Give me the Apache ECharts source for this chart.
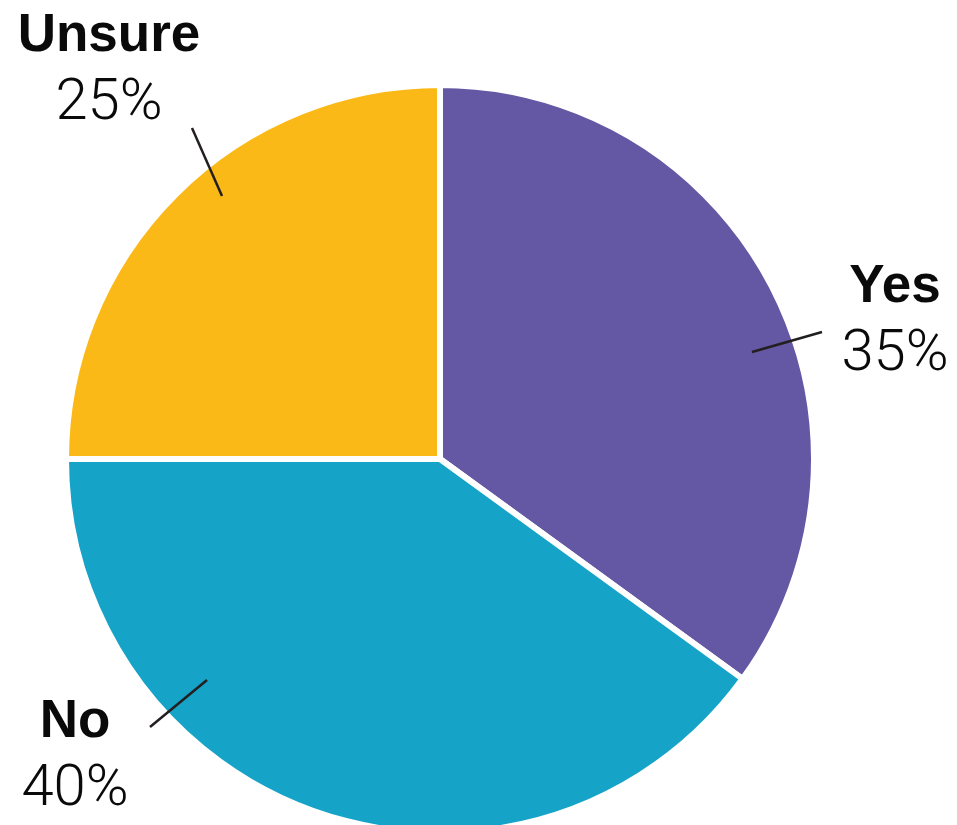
<!DOCTYPE html>
<html>
<head>
<meta charset="utf-8">
<script src="https://cdn.jsdelivr.net/npm/echarts@6/dist/echarts.min.js"></script>
<style>
  html, body { margin: 0; padding: 0; background: #fff; }
  #chart { width: 957px; height: 825px; }
</style>
</head>
<body>
<div id="chart"></div>
<script>
// Survey answers, share of respondents (%)
const answers = ['Yes', 'No', 'Unsure'];
const shares = [35, 40, 25];
const sliceColors = ['#6457A3', '#15A3C7', '#FBB917'];

// Where each answer's label sits and how its leader line runs
const labelSpots = [
  { x: 895, y: 321, line: [[752, 352], [822, 332]] },
  { x: 75,  y: 756, line: [[207, 680], [150, 727]] },
  { x: 109, y: 70,  line: [[222, 196], [192, 128]] }
];

const pieCenter = [440, 459];
const pieRadius = [0, 374];

const slices = answers.map((name, i) => ({
  name: name,
  value: shares[i],
  itemStyle: { color: sliceColors[i] }
}));

const chart = echarts.init(document.getElementById('chart'), null, { renderer: 'canvas' });

chart.setOption({
  backgroundColor: '#ffffff',
  animation: false,
  series: [
    {
      // coloured wedges
      type: 'pie',
      z: 2,
      center: pieCenter,
      radius: pieRadius,
      startAngle: 90,
      clockwise: true,
      data: slices,
      itemStyle: { borderColor: '#ffffff', borderWidth: 6 },
      label: { show: false },
      labelLine: { show: false }
    },
    {
      // labels and leader lines, laid over the wedges
      type: 'pie',
      z: 5,
      silent: true,
      center: pieCenter,
      radius: pieRadius,
      startAngle: 90,
      clockwise: true,
      avoidLabelOverlap: false,
      data: slices.map((s) => ({ name: s.name, value: s.value })),
      itemStyle: { color: 'rgba(0,0,0,0)', borderWidth: 0 },
      label: {
        show: true,
        position: 'outside',
        formatter: (p) => '{n|' + p.name + '}\n{p|' + p.value + '%}',
        rich: {
          n: {
            fontFamily: 'Liberation Sans, Arial, sans-serif',
            fontWeight: 'bold',
            fontSize: 53,
            lineHeight: 68,
            color: '#0a0a0a',
            align: 'center'
          },
          p: {
            fontFamily: 'Roboto, sans-serif',
            fontWeight: 300,
            fontSize: 58,
            lineHeight: 68,
            color: '#0a0a0a',
            align: 'center'
          }
        }
      },
      labelLine: {
        show: true,
        lineStyle: { color: '#231f20', width: 2.5 }
      },
      labelLayout: (params) => {
        const s = labelSpots[params.dataIndex];
        return {
          x: s.x,
          y: s.y,
          align: 'center',
          verticalAlign: 'middle',
          labelLinePoints: s.line
        };
      }
    }
  ]
});
</script>
</body>
</html>
